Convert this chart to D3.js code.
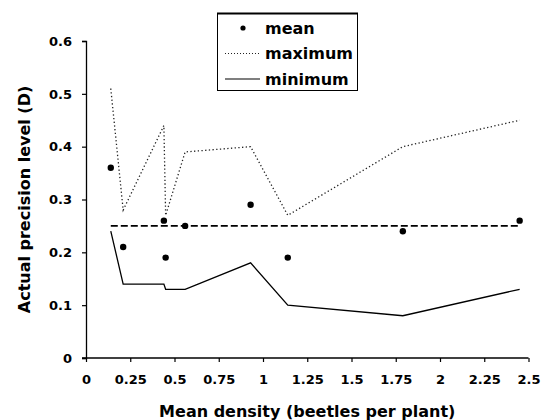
<!DOCTYPE html>
<html>
<head>
<meta charset="utf-8">
<script src="https://cdn.jsdelivr.net/npm/d3@7"></script>
<style>
  body { margin: 0; background: #fff; }
  svg text { font-family: "DejaVu Sans", sans-serif; font-weight: bold; fill: #000; }
</style>
</head>
<body>
<div id="chart"></div>
<script>
// values
const density = [0.14, 0.21, 0.44, 0.45, 0.56, 0.93, 1.14, 1.79, 2.45]
const meanD = [0.36, 0.21, 0.26, 0.19, 0.25, 0.29, 0.19, 0.24, 0.26]
const maxD = [0.51, 0.28, 0.44, 0.27, 0.39, 0.40, 0.27, 0.40, 0.45]
const minD = [0.24, 0.14, 0.14, 0.13, 0.13, 0.18, 0.10, 0.08, 0.13]
const targetD = 0.25
const xTicks = [0, 0.25, 0.5, 0.75, 1, 1.25, 1.5, 1.75, 2, 2.25, 2.5]
const yTicks = [0, 0.1, 0.2, 0.3, 0.4, 0.5, 0.6]
const legendLabels = ['mean', 'maximum', 'minimum']

const width = 544, height = 420
const x = d3.scaleLinear().domain([0, 2.5]).range([86, 528.5])
const y = d3.scaleLinear().domain([0, 0.6]).range([358, 41])

const svg = d3.select('#chart').append('svg')
  .attr('width', width)
  .attr('height', height)

const line = d3.line().x(d => x(d[0])).y(d => y(d[1]))
const pts = arr => density.map((d, i) => [d, arr[i]])

// axes
const xAxis = svg.append('g')
  .attr('transform', `translate(0,${y(0)})`)
  .call(d3.axisBottom(x).tickValues(xTicks).tickFormat(d => d).tickSize(4).tickPadding(13))
const yAxis = svg.append('g')
  .attr('transform', `translate(${x(0)},0)`)
  .call(d3.axisLeft(y).tickValues(yTicks).tickFormat(d => d).tickSize(4).tickPadding(10))

;[xAxis, yAxis].forEach(a => {
  a.select('.domain').attr('stroke', '#000').attr('stroke-width', 1.3)
  a.selectAll('.tick line').attr('stroke', '#000').attr('stroke-width', 1.2)
  a.selectAll('.tick text').style('font-size', '13px')
})
xAxis.select('.domain').attr('d', `M${x(0) - 4},0H${x(2.5)}`)

// axis titles
svg.append('text')
  .attr('x', (x(0) + x(2.5)) / 2)
  .attr('y', 417)
  .attr('text-anchor', 'middle')
  .style('font-size', '16px')
  .text('Mean density (beetles per plant)')

svg.append('text')
  .attr('transform', `translate(30,${(y(0) + y(0.6)) / 2}) rotate(-90)`)
  .attr('text-anchor', 'middle')
  .style('font-size', '16px')
  .text('Actual precision level (D)')

// target precision line
svg.append('path')
  .datum([[density[0], targetD], [density[density.length - 1], targetD]])
  .attr('d', line)
  .attr('fill', 'none')
  .attr('stroke', '#000')
  .attr('stroke-width', 1.6)
  .attr('stroke-dasharray', '7,3')

svg.append('path')
  .datum(pts(maxD))
  .attr('d', line)
  .attr('fill', 'none')
  .attr('stroke', '#222')
  .attr('stroke-width', 1.3)
  .attr('stroke-dasharray', '1.3,2.4')

svg.append('path')
  .datum(pts(minD))
  .attr('d', line)
  .attr('fill', 'none')
  .attr('stroke', '#000')
  .attr('stroke-width', 1.3)

svg.append('g').selectAll('circle')
  .data(pts(meanD))
  .enter().append('circle')
  .attr('cx', d => x(d[0]))
  .attr('cy', d => y(d[1]))
  .attr('r', 3.2)
  .attr('fill', '#000')

// legend
const legend = svg.append('g')
legend.append('rect')
  .attr('x', 217.5).attr('y', 13.5)
  .attr('width', 140).attr('height', 77)
  .attr('fill', '#fff')
  .attr('stroke', '#000')
  .attr('stroke-width', 1)
legend.append('line')
  .attr('x1', 217).attr('x2', 358).attr('y1', 13.5).attr('y2', 13.5)
  .attr('stroke', '#000').attr('stroke-width', 2)

const rowY = [28, 53.5, 79]
legend.append('circle')
  .attr('cx', 243).attr('cy', rowY[0]).attr('r', 2.6).attr('fill', '#000')
legend.append('line')
  .attr('x1', 225).attr('x2', 260).attr('y1', rowY[1]).attr('y2', rowY[1])
  .attr('stroke', '#222').attr('stroke-width', 1).attr('stroke-dasharray', '1,2')
legend.append('line')
  .attr('x1', 225).attr('x2', 260).attr('y1', rowY[2]).attr('y2', rowY[2])
  .attr('stroke', '#000').attr('stroke-width', 1.2)

legend.selectAll('text.lbl')
  .data(legendLabels)
  .enter().append('text')
  .attr('class', 'lbl')
  .attr('x', 265)
  .attr('y', (d, i) => rowY[i] + 5.5)
  .style('font-size', '16px')
  .text(d => d)
</script>
</body>
</html>
